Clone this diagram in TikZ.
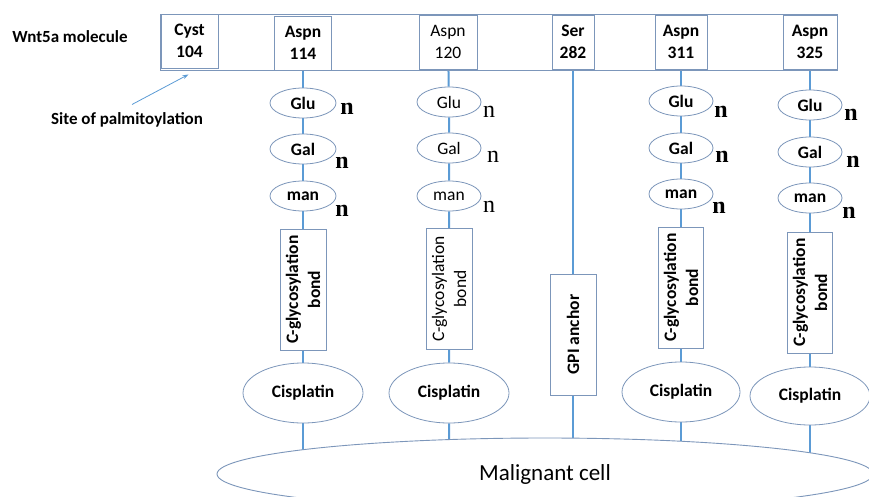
\documentclass[tikz,border=0pt]{standalone}
\usepackage{fontspec}
\setmainfont{Carlito}
\newfontfamily\nfont{Liberation Serif}
\usetikzlibrary{shapes.geometric,arrows.meta,backgrounds}
\definecolor{linkblue}{RGB}{91,155,213}
\definecolor{edgeblue}{RGB}{124,150,186}

\begin{document}
\begin{tikzpicture}[x=1pt,y=-1pt,
	every node/.style={inner sep=0pt,font=\fontsize{17.5}{22}\selectfont\bfseries},
	light/.style={font=\fontsize{17.5}{22}\selectfont\mdseries},
	side/.style={font=\fontsize{17}{22}\selectfont\bfseries},
	site/.style={draw=edgeblue,line width=0.9pt,fill=white,align=center,minimum height=54pt},
	sugar/.style={ellipse,draw=edgeblue,line width=0.8pt,fill=white,minimum width=66pt,minimum height=30pt},
	bondbox/.style={draw=edgeblue,line width=0.8pt,fill=white,rotate=90,align=center,minimum width=121pt,minimum height=46pt},
	drug/.style={ellipse,draw=edgeblue,line width=0.8pt,fill=white,minimum width=120pt,minimum height=60pt},
	nlabel/.style={font=\nfont\fontsize{24}{24}\selectfont\bfseries},
	nlight/.style={font=\nfont\fontsize{24}{24}\selectfont},
	link/.style={draw=linkblue,line width=2pt}]
	\useasboundingbox (0,0) rectangle (869,497);
	
	% molecule bar with the residues
	\node[draw=edgeblue,line width=0.9pt,fill=white,minimum width=677pt,minimum height=56pt] (bar) at (498.5,42) {};
	\node[side] (wnt) at (70,37) {Wnt5a molecule};
	\node[site,minimum width=57pt] (cyst) at (189.5,41) {Cyst\\104};
	\node[site,minimum width=57pt] (a114) at (303,43) {Aspn\\114};
	\node[site,minimum width=58pt,light] (a120) at (448,42) {Aspn\\120};
	\node[site,minimum width=42pt] (ser) at (573,42) {Ser\\282};
	\node[site,minimum width=52pt] (a311) at (681,42) {Aspn\\311};
	\node[site,minimum width=54pt] (a325) at (810,42) {Aspn\\325};
	
	\node[side] (site) at (127,120) {Site of palmitoylation};
	\draw[-{Stealth[length=6pt,width=4pt]},draw=linkblue,line width=0.8pt] ([xshift=5pt,yshift=8pt]site.north) -- ([xshift=-1pt,yshift=-6pt]cyst.south);
	
	% sugar chains
	\node[sugar] (glu1) at (303,103) {Glu};
	\node[sugar] (gal1) at (303,149) {Gal};
	\node[sugar] (man1) at (303,196) {man};
	\node[sugar,light,minimum width=64pt] (glu2) at (449,102) {Glu};
	\node[sugar,light,minimum width=64pt] (gal2) at (449,148) {Gal};
	\node[sugar,light,minimum width=64pt] (man2) at (449,196) {man};
	\node[sugar,minimum width=64pt] (glu4) at (681,101) {Glu};
	\node[sugar,minimum width=64pt] (gal4) at (681,148) {Gal};
	\node[sugar,minimum width=64pt] (man4) at (681,194) {man};
	\node[sugar,minimum width=64pt] (glu5) at (810,105) {Glu};
	\node[sugar,minimum width=64pt] (gal5) at (810,152) {Gal};
	\node[sugar,minimum width=64pt] (man5) at (810,198) {man};
	
	\node[nlabel] (n11) at (347,109) {n};
	\node[nlabel] (n12) at (342,163) {n};
	\node[nlabel] (n13) at (342,211) {n};
	\node[nlight] (n21) at (489,112) {n};
	\node[nlight] (n22) at (493,157) {n};
	\node[nlight] (n23) at (489,207) {n};
	\node[nlabel] (n41) at (721,112) {n};
	\node[nlabel] (n42) at (722,157) {n};
	\node[nlabel] (n43) at (719,208) {n};
	\node[nlabel] (n51) at (851,115) {n};
	\node[nlabel] (n52) at (853,162) {n};
	\node[nlabel] (n53) at (849,213) {n};
	
	% bonds and anchor
	\node[bondbox] (bond1) at (303,289.5) {C-glycosylation\\bond};
	\node[bondbox,light] (bond2) at (449,289) {C-glycosylation\\bond};
	\node[bondbox] (gpi) at (573,334.5) {GPI anchor};
	\node[bondbox,minimum height=45pt] (bond4) at (681,287.5) {C-glycosylation\\bond};
	\node[bondbox,minimum height=45pt] (bond5) at (810,292.5) {C-glycosylation\\bond};
	
	% drug
	\node[drug] (cis1) at (303,393) {Cisplatin};
	\node[drug] (cis2) at (449,393) {Cisplatin};
	\node[drug,minimum width=118pt] (cis4) at (681,392) {Cisplatin};
	\node[drug,minimum height=58pt] (cis5) at (810,396) {Cisplatin};
	
	\node[ellipse,draw=edgeblue,line width=0.9pt,fill=white,minimum width=656pt,minimum height=72pt,font=\fontsize{23}{26}\selectfont\mdseries] (cell) at (545,474) {Malignant cell};
	
	\begin{pgfonlayer}{background}
		\foreach \c/\t in {1/a114,2/a120,4/a311,5/a325}
			\draw[link] (\t) -- (glu\c) -- (gal\c) -- (man\c) -- (bond\c) -- (cis\c) -- (cis\c |- cell.center);
		\draw[link] (ser) -- (gpi) -- (gpi |- cell.center);
	\end{pgfonlayer}
\end{tikzpicture}
\end{document}
